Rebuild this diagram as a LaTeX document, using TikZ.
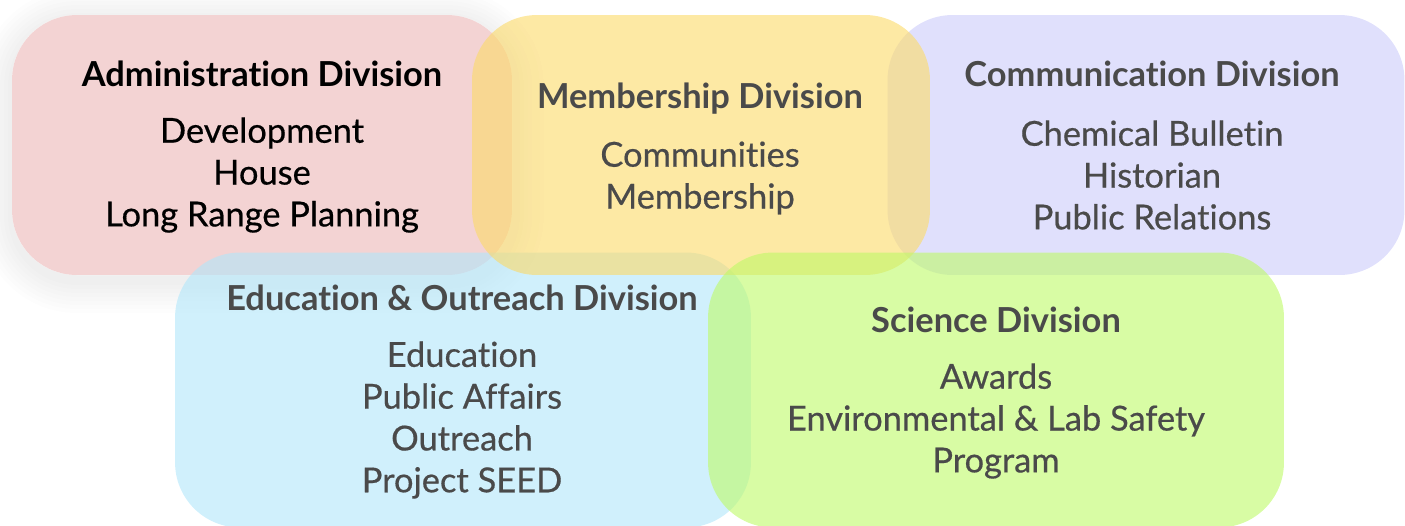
\documentclass[tikz,border=0pt]{standalone}
\usepackage{fontspec}
\setmainfont{Lato}[Ligatures={NoCommon,NoRequired,NoContextual}]
\newfontfamily\itemfont{Lato}[Ligatures={NoCommon,NoRequired,NoContextual},FakeBold=0.5]
\usetikzlibrary{positioning}
\definecolor{admred}{RGB}{235,182,182}
\definecolor{memyellow}{RGB}{252,218,103}
\definecolor{compurple}{RGB}{204,204,250}
\definecolor{edublue}{RGB}{177,230,250}
\definecolor{scigreen}{RGB}{190,250,103}
\definecolor{ink}{RGB}{74,74,74}

\begin{document}
\begin{tikzpicture}[x=0.02cm,y=-0.02cm,
    division/.style={rectangle,rounded corners=1.3cm,inner sep=0pt,fill opacity=0.6},
    divtitle/.style={font=\bfseries\fontsize{19.6}{23}\selectfont,text=ink},
    divitems/.style={align=center,font=\itemfont\fontsize{19.6}{23.8}\selectfont,text=ink}]
    \useasboundingbox (0,0) rectangle (1405,525);
    \clip (0,0) rectangle (1405,525);

    % soft shadow behind the first box
    \foreach \s in {1,...,8}
      \fill[black,opacity=0.006,rounded corners=1.3cm+\s*0.08cm]
        (12-\s*4,21-\s*4) rectangle (512+\s*4,281+\s*4);
    \fill[white,rounded corners=1.3cm] (12,15) rectangle (512,275);

    % boxes
    \node[division,fill=admred,minimum width=10cm,minimum height=5.2cm] (adm) at (262,145) {};
    \node[division,fill=compurple,minimum width=10.34cm,minimum height=5.2cm] (com) at (1146,145) {};
    \node[division,fill=edublue,minimum width=11.52cm,minimum height=5.5cm] (edu) at (463,390) {};
    \node[division,fill=memyellow,minimum width=9.16cm,minimum height=5.2cm] (mem) at (701,145) {};
    \node[division,fill=scigreen,minimum width=11.52cm,minimum height=5.5cm] (sci) at (996,390) {};

    % texts
    \node[divtitle,text=black] (admtitle) at (262,74) {Administration Division};
    \node[divitems,text=black] (admitems) at (262,175) {Development\\House\\Long Range Planning};

    \node[divtitle] (memtitle) at (700,99) {Membership Division};
    \node[divitems] (memitems) at (700,178) {Communities\\Membership};

    \node[divtitle] (comtitle) at (1152,74) {Communication Division};
    \node[divitems] (comitems) at (1152,175) {Chemical Bulletin\\Historian\\Public Relations};

    \node[divtitle] (edutitle) at (462,298) {Education \& Outreach Division};
    \node[divitems] (eduitems) at (462,420) {Education\\Public Affairs\\Outreach\\Project SEED};

    \node[divtitle] (scititle) at (996,320) {Science Division};
    \node[divitems] (sciitems) at (996,421) {Awards\\Environmental \& Lab Safety\\Program};
\end{tikzpicture}
\end{document}
